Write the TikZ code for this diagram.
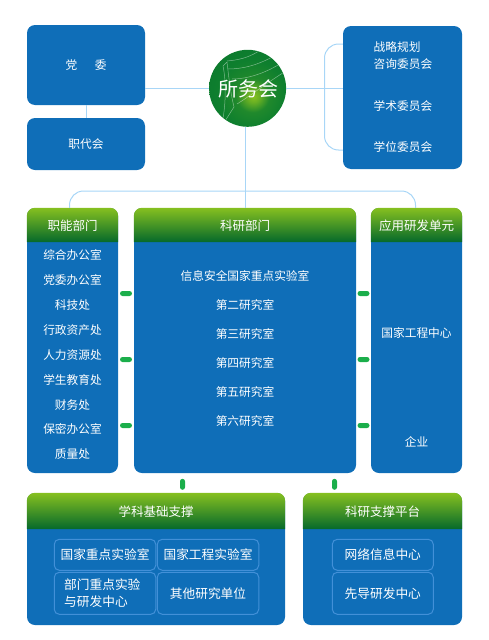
\documentclass[tikz,border=0pt]{standalone}
\usepackage{fontspec}
\setmainfont{Noto Sans CJK SC}
\definecolor{boxblue}{HTML}{0F6EB8}
\definecolor{linkblue}{HTML}{A8D6F7}
\definecolor{innerblue}{HTML}{4290D8}
\definecolor{headtop}{HTML}{86C020}
\definecolor{headbot}{HTML}{05692B}
\definecolor{pillgreen}{HTML}{1BAE4B}
\definecolor{ballmid}{HTML}{0E7F2E}
\pgfdeclareradialshading{suowushade}{\pgfpoint{4bp}{-5.5bp}}{
	color(0bp)=(headtop);
	color(4bp)=(headtop!75!ballmid);
	color(11bp)=(ballmid!85!headtop);
	color(22bp)=(ballmid);
	color(62bp)=(headbot)}
\tikzset{
	bluebox/.style={fill=boxblue,rounded corners=8pt,inner sep=0pt},
	wtext/.style={text=white,font=\fontsize{11.7}{17}\selectfont,inner sep=0pt,yshift=-0.2pt},
	headtext/.style={text=white,font=\fontsize{12.5}{17}\selectfont,inner sep=0pt,yshift=-0.8pt},
	subbox/.style={draw=innerblue,line width=1pt,rounded corners=5pt,inner sep=0pt,
		text=white,font=\fontsize{12.7}{17}\selectfont},
	linkline/.style={draw=linkblue,line width=1pt},
	pill/.style={fill=pillgreen,rounded corners=2.5pt,inner sep=0pt}
}
\begin{document}
\begin{tikzpicture}[x=1pt,y=-1pt]
	\useasboundingbox (0,0) rectangle (489,640);
	\node[bluebox,minimum width=118pt,minimum height=80pt] (dangwei) at (86,65) {};
	\node[wtext] (dangweit) at (dangwei) {党\hspace{1.5em}委};
	\node[bluebox,minimum width=118pt,minimum height=52pt] (zhidai) at (86,144) {};
	\node[wtext] (zhidait) at (zhidai) {职代会};
	\node[bluebox,minimum width=119pt,minimum height=143pt] (weiyuan) at (402.5,97.5) {};
	\node[wtext,align=left,anchor=west] (zixun) at (373.5,55.5) {战略规划\\咨询委员会};
	\node[wtext,anchor=west] (xueshu) at (373.5,106) {学术委员会};
	\node[wtext,anchor=west] (xuewei) at (373.5,147) {学位委员会};
	% panels with a green head
	\foreach \pname/\cx/\cy/\w/\h/\hy/\ty/\txt in {
		gongneng/72.5/340.5/91/265/242/225/职能部门,
		keyan/245/340.5/222/265/242/225/科研部门,
		yingyong/416.5/340.5/91/265/242/225/应用研发单元,
		xueke/156/559/258/132/529/511/学科基础支撑,
		pingtai/382.5/559/159/132/529/511/科研支撑平台}
	{
		\node[bluebox,minimum width=\w pt,minimum height=\h pt] (\pname) at (\cx,\cy) {};
		\shade[top color=headtop,bottom color=headbot]
			(\pname.west |- 0,\hy) [rounded corners=8pt] -- (\pname.north west)
			-- (\pname.north east) [sharp corners] -- (\pname.east |- 0,\hy) -- cycle;
		\node[headtext] (\pname t) at (\cx,\ty) {\txt};
	}
	\foreach \txt [count=\i] in {综合办公室,党委办公室,科技处,行政资产处,人力资源处,学生教育处,财务处,保密办公室,质量处}
	\node[wtext] (gn\i) at (72.5,{255+24.9*(\i-1)}) {\txt};
	\foreach \txt [count=\i] in {信息安全国家重点实验室,第二研究室,第三研究室,第四研究室,第五研究室,第六研究室}
	\node[wtext] (ky\i) at (245,{276+29*(\i-1)}) {\txt};
	\node[wtext] (gczx) at (416.5,333) {国家工程中心};
	\node[wtext] (qiye) at (416.5,442) {企业};
	% boxes in the two lower panels
	\foreach \bname/\cx/\cy/\w/\h/\txt in {
		a/105/554.8/101.5/31/国家重点实验室,
		b/208/554.8/101.5/31/国家工程实验室,
		c/105/593.3/101.5/42/{},
		d/208/593.3/101.5/42/其他研究单位,
		e/382.8/554.8/101/31/网络信息中心,
		f/382.8/593.3/101/42/先导研发中心}
	\node[subbox,minimum width=\w pt,minimum height=\h pt] (sub\bname) at (\cx,\cy) {\txt};
	\node[text=white,font=\fontsize{12.7}{17}\selectfont,inner sep=0pt,align=left,anchor=west] (subct) at (64,593.3)
		{部门重点实验\\与研发中心};
	% the green dots
	\foreach \yy [count=\i] in {293.5,359.5,425.5}
	{
		\node[pill,minimum width=12pt,minimum height=5pt] (pl\i) at (126,\yy) {};
		\node[pill,minimum width=12pt,minimum height=5pt] (pr\i) at (363.5,\yy) {};
	}
	\node[pill,minimum width=5pt,minimum height=11pt] (pd1) at (182.5,484.3) {};
	\node[pill,minimum width=5pt,minimum height=11pt] (pd2) at (334.5,484.3) {};
	% the circle
	\node[circle,minimum size=77pt,inner sep=0pt,shading=suowushade] (suowu) at (247.6,88.3) {};
	\begin{scope}
		\clip (247.6,88.3) circle [radius=38pt];
		\draw[white,opacity=0.45,line width=0.5pt]
			(227,61) .. controls (238,60) and (248,58) .. (259,51)
			(228,69) .. controls (243,69) and (258,65) .. (274,56)
			(232,79) .. controls (248,79) and (266,73) .. (283,62)
			(237,104) .. controls (250,96) and (268,82) .. (286,71)
			(223,66) .. controls (226,80) and (226,100) .. (223,119)
			(227,62) .. controls (229,80) and (231,95) .. (234,107) -- (225,121)
			(223,66) -- (227,62);
	\end{scope}
	\node[text=white,font=\fontsize{20}{24}\selectfont,inner sep=0pt] (suowut) at (248,88.5) {所务会};
	% connectors
	\coordinate (bul) at (69.5,191);
	\coordinate (bur) at (415.5,191);
	\coordinate (bkt) at (324.5,44);
	\coordinate (bkb) at (324.5,150);
	\draw[linkline] (dangwei.east |- suowu) -- (suowu);
	\draw[linkline] (dangwei.south) -- (zhidai.north);
	\draw[linkline] (suowu) -- (weiyuan.west |- suowu);
	\draw[linkline] (keyan.north |- suowu.south) -- (keyan.north);
	\draw[linkline,rounded corners=14pt] (weiyuan.west |- bkt) -- (bkt) -- (bkb) -- (weiyuan.west |- bkb);
	\draw[linkline,rounded corners=14pt] (bul |- gongneng.north) -- (bul) -- (bur) -- (bur |- yingyong.north);
\end{tikzpicture}
\end{document}
